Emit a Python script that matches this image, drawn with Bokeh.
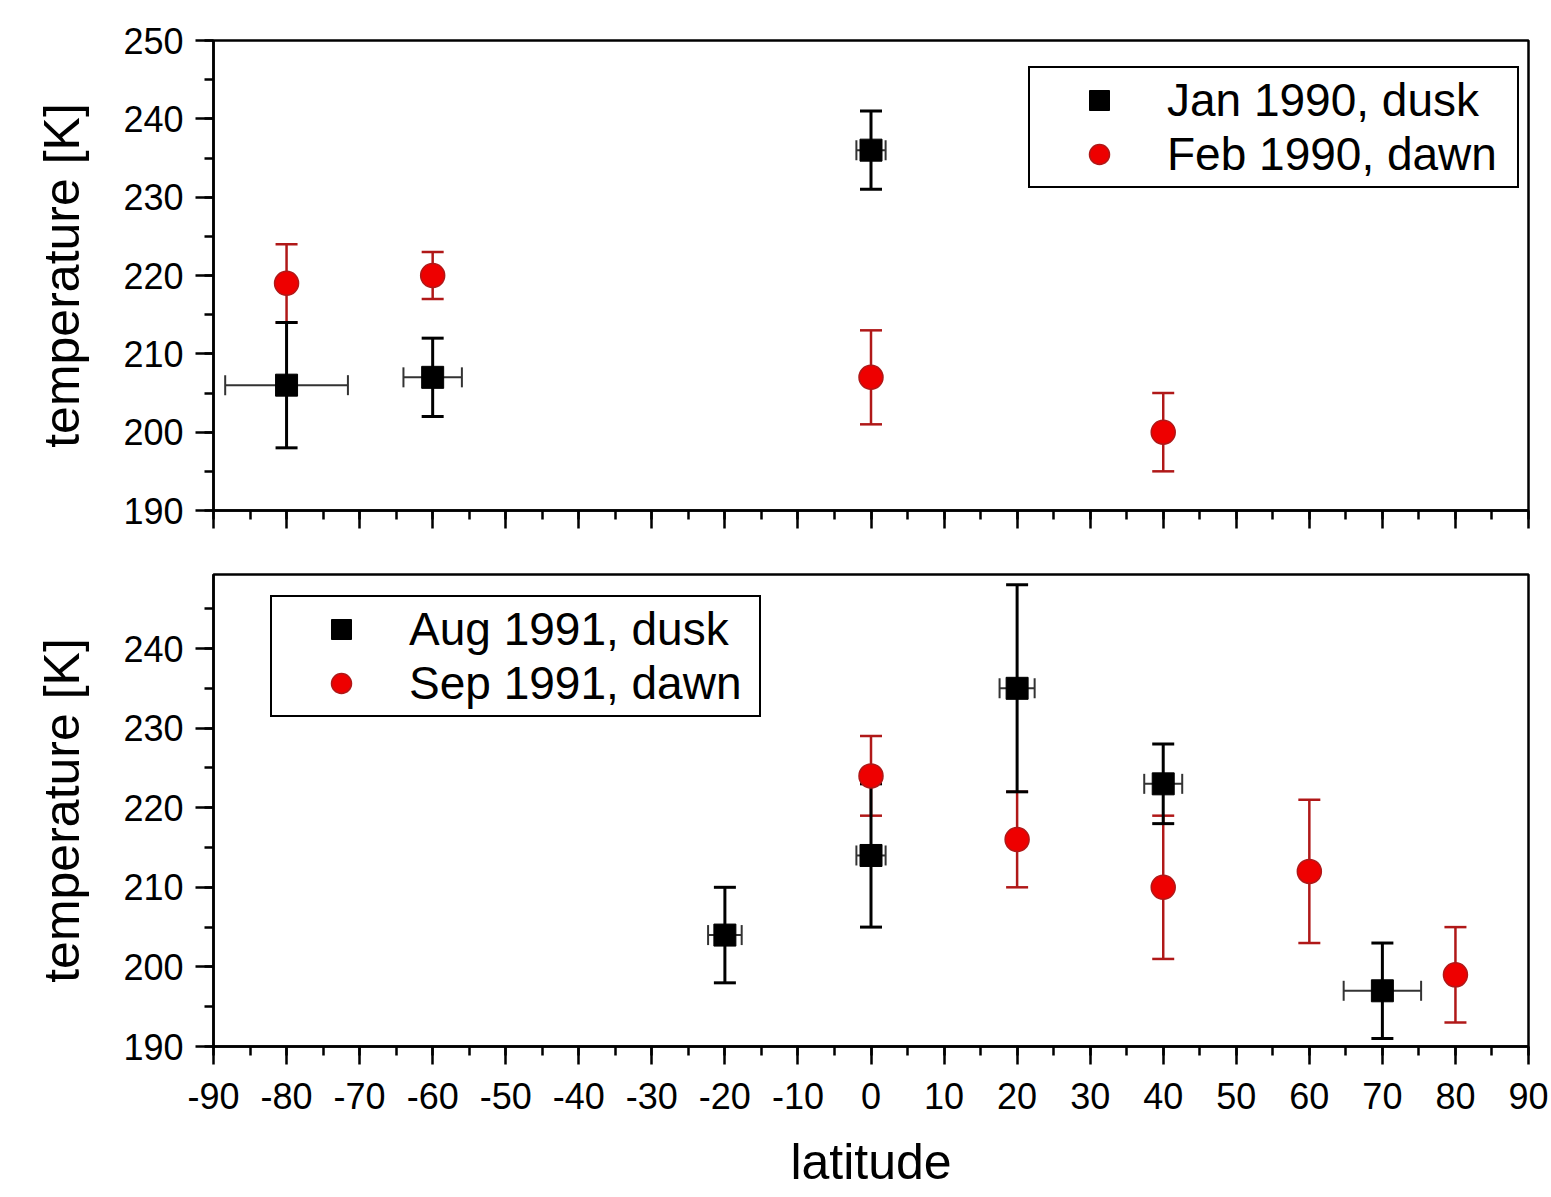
from bokeh.plotting import figure
from bokeh.models import (ColumnDataSource, Whisker, TeeHead, SingleIntervalTicker,
                          Range1d, Legend, LegendItem)
from bokeh.layouts import column
from bokeh.embed import file_html
from bokeh.resources import INLINE

FONT = "Liberation Sans"

# ---------------- data ----------------
# top panel: Jan 1990 dusk (black squares)
jan90_lat = [-80, -60, 0]
jan90_T = [206, 207, 236]
jan90_T_lo = [198, 202, 231]
jan90_T_hi = [214, 212, 241]
jan90_lat_lo = [-88.4, -64, -2]
jan90_lat_hi = [-71.6, -56, 2]

# top panel: Feb 1990 dawn (red circles)
feb90_lat = [-80, -60, 0, 40]
feb90_T = [219, 220, 207, 200]
feb90_T_lo = [214, 217, 201, 195]
feb90_T_hi = [224, 223, 213, 205]

# bottom panel: Aug 1991 dusk (black squares)
aug91_lat = [-20, 0, 20, 40, 70]
aug91_T = [204, 214, 235, 223, 197]
aug91_T_lo = [198, 205, 222, 218, 191]
aug91_T_hi = [210, 223, 248, 228, 203]
aug91_lat_lo = [-22.3, -2, 17.6, 37.4, 64.7]
aug91_lat_hi = [-17.7, 2, 22.4, 42.6, 75.3]

# bottom panel: Sep 1991 dawn (red circles)
sep91_lat = [0, 20, 40, 60, 80]
sep91_T = [224, 216, 210, 212, 199]
sep91_T_lo = [219, 210, 201, 203, 193]
sep91_T_hi = [229, 222, 219, 221, 205]

top_labels = ["Jan 1990, dusk", "Feb 1990, dawn"]
bottom_labels = ["Aug 1991, dusk", "Sep 1991, dawn"]

lat_ticks = list(range(-90, 91, 10))
lat_tick_labels = [str(v) for v in lat_ticks]   # plain hyphen minus signs
temp_ticks = list(range(190, 251, 10))
temp_tick_labels = [str(v) for v in temp_ticks]

RED_FILL = "#ee0000"
RED_LINE = "#b01818"


def make_fig(frame_h, y_end, b_top, b_bottom, x_labels):
    p = figure(output_backend="svg", toolbar_location=None,
               frame_width=1315, frame_height=frame_h,
               x_range=Range1d(-90, 90), y_range=Range1d(190, y_end),
               min_border_left=213, min_border_right=20,
               min_border_top=b_top, min_border_bottom=b_bottom,
               background_fill_color="white", border_fill_color="white")
    p.grid.visible = False
    p.outline_line_color = "black"
    p.outline_line_width = 2.5
    p.outline_line_alpha = 1.0
    for ax in (p.xaxis[0], p.yaxis[0]):
        ax.ticker = SingleIntervalTicker(interval=10, num_minor_ticks=2)
        ax.axis_line_width = 2.5
        ax.major_tick_line_width = 2.5
        ax.minor_tick_line_width = 2.5
        ax.major_tick_in = 0
        ax.major_tick_out = 18
        ax.minor_tick_in = 0
        ax.minor_tick_out = 9
        ax.major_label_text_font = FONT
        ax.major_label_text_font_size = "36px"
        ax.major_label_text_color = "black"
        ax.axis_label_text_font = FONT
        ax.axis_label_text_font_size = "50px"
        ax.axis_label_text_font_style = "normal"
        ax.axis_label_text_color = "black"
    p.yaxis.axis_label = "temperature [K]"
    p.yaxis.major_label_standoff = 12
    p.yaxis.axis_label_standoff = 30
    p.yaxis.major_label_overrides = dict(zip(temp_ticks, temp_tick_labels))
    if x_labels:
        p.xaxis.axis_label = "latitude"
        p.xaxis.major_label_standoff = 18
        p.xaxis.axis_label_standoff = 22
        p.xaxis.major_label_overrides = dict(zip(lat_ticks, lat_tick_labels))
    else:
        p.xaxis.major_label_overrides = {v: "" for v in lat_ticks}
        p.xaxis.major_label_standoff = 0
    return p


def add_yerr(p, x, lo, hi, color, width):
    src = ColumnDataSource(dict(base=x, lower=lo, upper=hi))
    w = Whisker(source=src, base="base", lower="lower", upper="upper", dimension="height",
                line_color=color, line_width=width,
                lower_head=TeeHead(size=22, line_color=color, line_width=width),
                upper_head=TeeHead(size=22, line_color=color, line_width=width))
    p.add_layout(w)


def add_xerr(p, y, lo, hi, color, width):
    src = ColumnDataSource(dict(base=y, lower=lo, upper=hi))
    w = Whisker(source=src, base="base", lower="lower", upper="upper", dimension="width",
                line_color=color, line_width=width,
                lower_head=TeeHead(size=20, line_color=color, line_width=width),
                upper_head=TeeHead(size=20, line_color=color, line_width=width))
    p.add_layout(w)


def add_legend(p, r_black, r_red, labels, loc):
    leg = Legend(items=[LegendItem(label=labels[0], renderers=[r_black]),
                        LegendItem(label=labels[1], renderers=[r_red])],
                 location=loc, orientation="vertical")
    leg.label_text_font = FONT
    leg.label_text_font_size = "46px"
    leg.label_text_color = "black"
    leg.glyph_width = 128
    leg.glyph_height = 50
    leg.label_height = 50
    leg.label_width = 345
    leg.label_standoff = 4
    leg.padding = 5
    leg.spacing = 0
    leg.margin = 0
    leg.border_line_color = "black"
    leg.border_line_alpha = 1.0
    leg.border_line_width = 2
    leg.background_fill_color = "white"
    leg.background_fill_alpha = 1.0
    p.add_layout(leg)


# ---------------- top panel ----------------
p1 = make_fig(470, 250, 40, 30, False)
add_yerr(p1, feb90_lat, feb90_T_lo, feb90_T_hi, RED_LINE, 2.5)
add_yerr(p1, jan90_lat, jan90_T_lo, jan90_T_hi, "black", 3)
add_xerr(p1, jan90_T, jan90_lat_lo, jan90_lat_hi, "#333333", 2)
rb1 = p1.scatter(jan90_lat, jan90_T, marker="square", size=22,
                 fill_color="black", line_color="black")
rr1 = p1.scatter(feb90_lat, feb90_T, marker="circle", size=24,
                 fill_color=RED_FILL, line_color=RED_LINE, line_width=1.5)
add_legend(p1, rb1, rr1, top_labels, (815, 322))

# ---------------- bottom panel ----------------
p2 = make_fig(472, 249.3, 34, 140, True)
add_yerr(p2, sep91_lat, sep91_T_lo, sep91_T_hi, RED_LINE, 2.5)
add_yerr(p2, aug91_lat, aug91_T_lo, aug91_T_hi, "black", 3)
add_xerr(p2, aug91_T, aug91_lat_lo, aug91_lat_hi, "#333333", 2)
rb2 = p2.scatter(aug91_lat, aug91_T, marker="square", size=22,
                 fill_color="black", line_color="black")
rr2 = p2.scatter(sep91_lat, sep91_T, marker="circle", size=24,
                 fill_color=RED_FILL, line_color=RED_LINE, line_width=1.5)
add_legend(p2, rb2, rr2, bottom_labels, (57, 329))

layout = column(p1, p2)
open("out.html", "w").write(file_html(layout, INLINE))
